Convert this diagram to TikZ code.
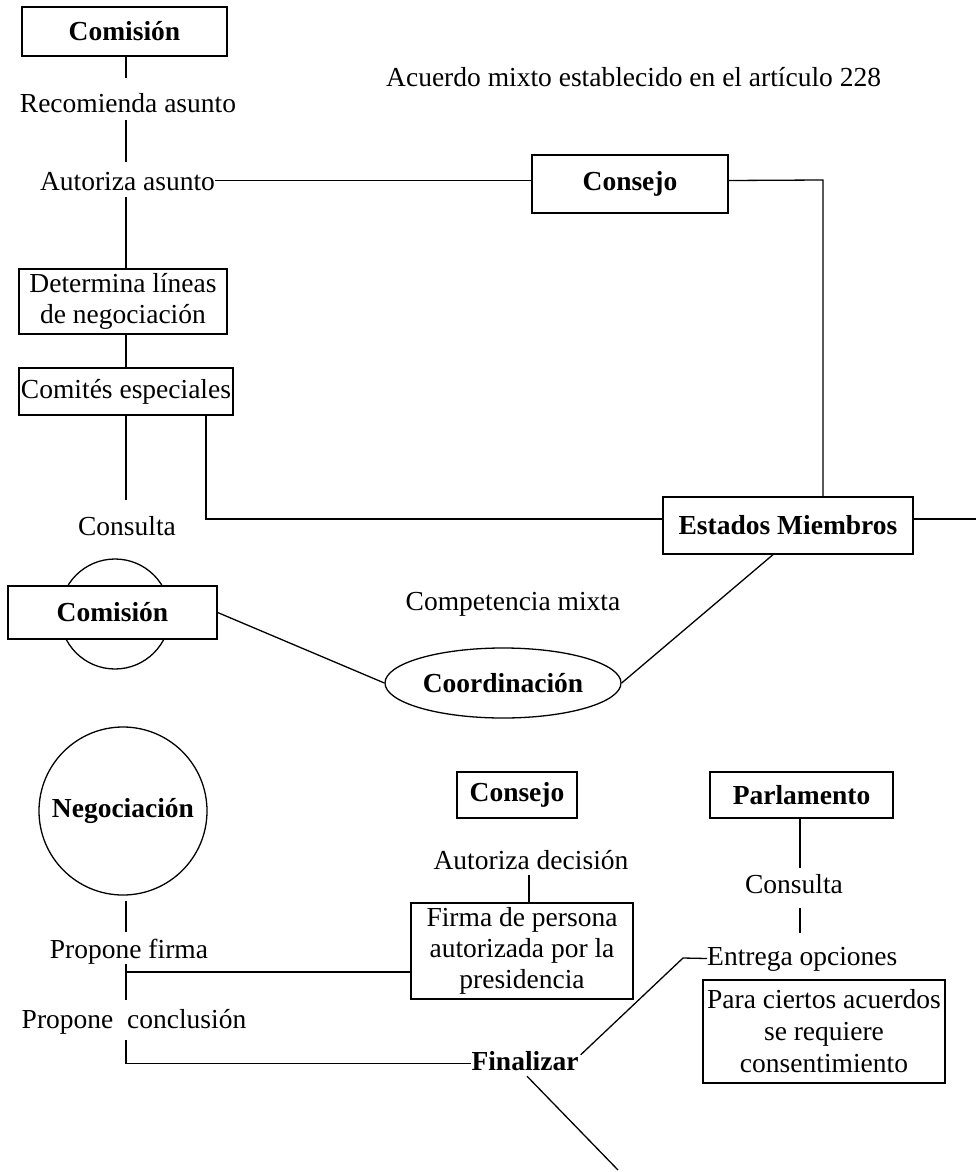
\documentclass[tikz,border=0pt]{standalone}
\usepackage{fontspec}
\setmainfont{Liberation Serif}
\usetikzlibrary{shapes.geometric}
\begin{document}
\begin{tikzpicture}[x=1pt,y=-1pt,
  every node/.style={font=\fontsize{27.5}{31}\selectfont},
  box/.style={draw, line width=1.3pt, fill=white, inner sep=0pt, align=center},
  lbl/.style={inner sep=0pt, anchor=base, text height=19pt, text depth=6pt},
  conn/.style={line width=1.3pt}]
\useasboundingbox (0,0) rectangle (976,1172);
\coordinate (spine) at (126,0);

% top part
\node[box, minimum width=205pt, minimum height=49pt] (com1) at (124.5,31.5) {\textbf{Comisión}};
\node[lbl] (rec) at (128,112) {Recomienda asunto};
\node[lbl] (autA) at (127.5,190) {Autoriza asunto};
\node[lbl, anchor=base west] (acu) at (386,86) {Acuerdo mixto establecido en el artículo 228};
\node[box, minimum width=196pt, minimum height=58pt] (cons1) at (630,184) {\textbf{Consejo}};
\node[box, minimum width=208pt, minimum height=65pt] (det) at (123,301.5) {Determina líneas\\de negociación};
\node[box, minimum width=214pt, minimum height=47pt] (comites) at (126,391.5) {Comités especiales};
\node[lbl] (cons2) at (127,535) {Consulta};
\node[box, minimum width=250pt, minimum height=57pt] (em) at (788,525.5) {\textbf{Estados Miembros}};

% middle
\node[circle, draw, line width=1.3pt, minimum size=110pt, inner sep=0pt] (c2) at (115,614) {};
\node[box, minimum width=209pt, minimum height=53pt] (com2) at (112.5,612.5) {\textbf{Comisión}};
\node[lbl] (comp) at (513,610) {Competencia mixta};
\node[ellipse, draw, line width=1.3pt, minimum width=236pt, minimum height=70pt, inner sep=0pt] (coord) at (503,683) {\textbf{Coordinación}};

% lower part
\node[circle, draw, line width=1.3pt, minimum size=168pt, inner sep=0pt] (neg) at (123,811) {\textbf{Negociación}};
\node[lbl] (pf) at (129,958) {Propone firma};
\node[lbl] (pc) at (134,1028) {Propone\ \ conclusión};
\node[box, minimum width=120pt, minimum height=46pt] (cons3) at (517,795) {\textbf{Consejo}};
\node[lbl] (ad) at (531,869) {Autoriza decisión};
\node[box, minimum width=222pt, minimum height=96pt] (firma) at (522,951) {Firma de persona\\autorizada por la\\presidencia};
\node[box, minimum width=183pt, minimum height=46pt] (parl) at (801.5,795) {\textbf{Parlamento}};
\node[lbl] (cons3b) at (794,893) {Consulta};
\node[lbl, anchor=base west] (ent) at (707,965) {Entrega opciones};
\node[box, minimum width=242pt, minimum height=103pt] (para) at (824,1031.5) {Para ciertos acuerdos\\[1pt]se requiere\\[1pt]consentimiento};
\node[lbl] (fin) at (525,1070) {\textbf{Finalizar}};

\coordinate (ja) at ([yshift=3pt]autA.east);
\coordinate (cR) at (823,180);
\coordinate (cL) at (206,519);
\coordinate (edgeR) at (976,519);
\coordinate (pfj) at (126,972);
\coordinate (fe) at (683,958);
\coordinate (bot) at (618,1170);

% connectors
\draw[conn, shorten >=15pt] (com1.south -| spine) -- (rec.north -| spine);
\draw[conn, shorten <=2pt, shorten >=9pt] (rec.south -| spine) -- (autA.north -| spine);
\draw[conn, shorten <=1pt] (autA.south -| spine) -- (det.north -| spine);
\draw[conn] (det.south -| spine) -- (comites.north -| spine);
\draw[conn, shorten >=16pt] (comites.south -| spine) -- (cons2.north -| spine);
\draw[conn] (ja) -- (ja -| cons1.west);
\draw[conn] (ja -| cons1.east) -- (cR) -- (cR |- em.north);
\draw[conn] (comites.south -| cL) -- (cL) -- (cL -| em.west);
\draw[conn] (cL -| em.east) -- (edgeR);
\draw[conn] (com2.east) -- (coord.west);
\draw[conn] (coord.east) -- ([xshift=-15pt]em.south);

\draw[conn, shorten <=5pt, shorten >=7pt] (neg.south -| spine) -- (pf.north -| spine);
\draw[conn, shorten >=9pt] (pf.south -| spine) -- (pc.north -| spine);
\draw[conn] (pfj) -- (pfj -| firma.west);
\draw[conn, shorten <=6pt] (pc.south -| spine) -- (spine |- fin.west) -- (fin.west);
\draw[conn] (ad.south -| 529,0) -- (firma.north -| 529,0);
\draw[conn, shorten >=6pt] (parl.south -| 800,0) -- (cons3b.north -| 800,0);
\draw[conn, shorten <=9pt, shorten >=13pt] (cons3b.south -| 800,0) -- (ent.north -| 800,0);
\draw[conn] ([xshift=2pt,yshift=-4pt]fin.north east) -- (fe) -- (ent.west);
\draw[conn] ([xshift=2pt]fin.south) -- (bot);
\end{tikzpicture}
\end{document}
